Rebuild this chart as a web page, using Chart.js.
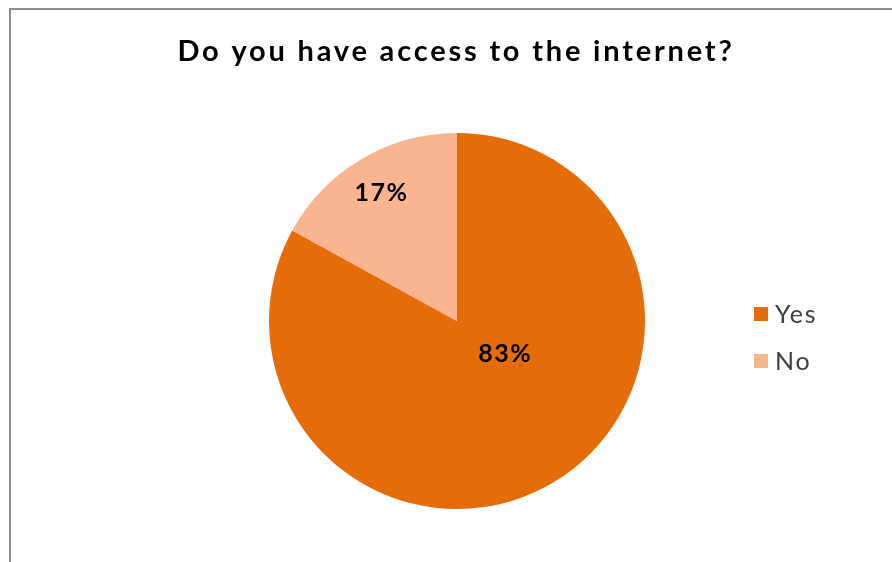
<!DOCTYPE html>
<html>
<head>
<meta charset="utf-8">
<script src="https://cdn.jsdelivr.net/npm/chart.js@4.4.0/dist/chart.umd.min.js"></script>
<style>
  html, body { margin: 0; padding: 0; background: #fff; overflow: hidden; }
  #frame { position: absolute; left: 9px; top: 8px; width: 900px; height: 600px;
           border-left: 2px solid #8c8c8c; border-top: 2px solid #8c8c8c; }
  #wrap { position: absolute; left: 0; top: 0; width: 892px; height: 562px; }
</style>
</head>
<body>
<div id="frame"></div>
<div id="wrap"><canvas id="pieArea"></canvas></div>
<script>
const pieArea = document.getElementById("pieArea");

var title = "Do you have access to the internet?";
var answerLabels = ["Yes", "No"];
var answerShares = [83, 17];
var answerColors = ["#E46C0A", "#F9B58F"];

var fontName = "Lato, 'DejaVu Sans', sans-serif";

//draws title, legend and the % labels
var extrasPlugin = {
    id: "extras",
    afterDraw: function (chart) {
        var ctx = chart.ctx;
        ctx.save();

        //title (spaced out a bit, the original font is a wide one)
        ctx.fillStyle = "#000";
        ctx.font = "bold 29px " + fontName;
        ctx.letterSpacing = "2.8px";
        ctx.textAlign = "center";
        ctx.textBaseline = "middle";
        ctx.fillText(title, 456, 52);

        //labels on the slices
        var meta = chart.getDatasetMeta(0);
        var place = [{ turn: -0.07, frac: 0.31 }, { turn: 0, frac: 0.79 }];
        ctx.font = "bold 25px " + fontName;
        ctx.letterSpacing = "1.5px";
        meta.data.forEach(function (arc, i) {
            var mid = (arc.startAngle + arc.endAngle) / 2 + place[i].turn * 2 * Math.PI;
            var r = arc.outerRadius * place[i].frac;
            var x = arc.x + Math.cos(mid) * r;
            var y = arc.y + Math.sin(mid) * r;
            ctx.fillText(answerShares[i] + "%", x, y);
        });

        //legend
        ctx.textAlign = "left";
        ctx.font = "25px " + fontName;
        ctx.letterSpacing = "1.8px";
        for (var i = 0; i < answerLabels.length; i++) {
            var y = 314 + i * 47;
            ctx.fillStyle = answerColors[i];
            ctx.fillRect(754, y - 7, 14, 14);
            ctx.fillStyle = "#404040";
            ctx.fillText(answerLabels[i], 775, y + 1);
        }
        ctx.restore();
    }
};

var pieChart = new Chart(pieArea, {
    type: "pie",
    data: {
        labels: answerLabels,
        datasets: [{
            data: answerShares,
            backgroundColor: answerColors,
            borderWidth: 0
        }]
    },
    options: {
        responsive: true,
        maintainAspectRatio: false,
        animation: false,
        layout: { padding: { left: 269, right: 247, top: 133, bottom: 53 } },
        plugins: {
            legend: { display: false },
            tooltip: { enabled: false }
        }
    },
    plugins: [extrasPlugin]
});
</script>
</body>
</html>
